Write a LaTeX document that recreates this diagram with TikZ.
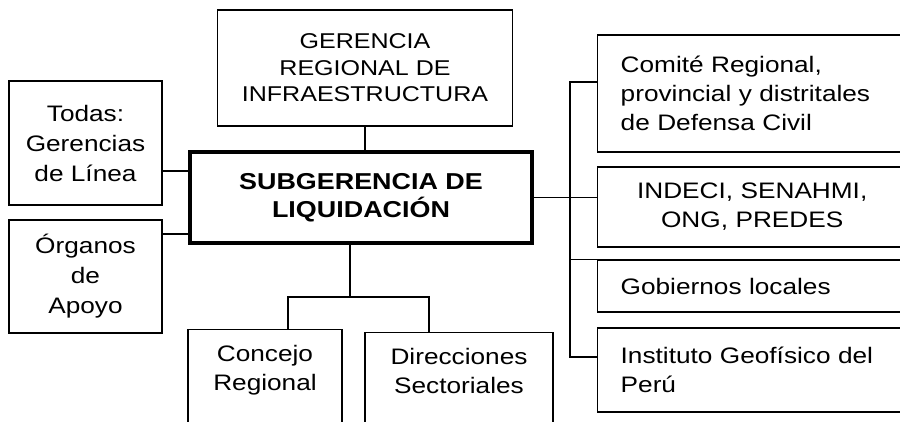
\documentclass[tikz,border=0pt]{standalone}
\usepackage{fontspec}
\setmainfont{Liberation Sans}[FakeStretch=1.17]
\usepackage{tikz}
\usetikzlibrary{positioning,calc}

\begin{document}
\begin{tikzpicture}[x=0.5pt,y=0.5pt,
  box/.style={draw,line width=0.7pt,inner sep=0pt,align=center,
              font=\fontsize{11.2}{15}\selectfont},
  head/.style={box,font=\fontsize{10.7}{13.25}\selectfont},
  main/.style={box,line width=1.8pt,font=\bfseries\fontsize{11.5}{14}\selectfont},
  low/.style={box,anchor=north,text height=30.5pt,text depth=50pt,
              font=\fontsize{11.2}{14.5}\selectfont},
  side/.style={box,anchor=west,inner xsep=11.5pt,text width=140pt,align=left,
               font=\fontsize{11.2}{14.5}\selectfont},
  line/.style={line width=0.7pt}]
\clip (0,0) rectangle (900,-422);
\node[head,minimum width=147.5pt,minimum height=58pt] (ger) at (365,-68)
  {GERENCIA\\ REGIONAL DE\\ INFRAESTRUCTURA};
\node[box,minimum width=76.5pt,minimum height=62pt] (todas) at (85.5,-143)
  {Todas:\\ Gerencias\\ de Línea};
\node[box,minimum width=76.5pt,minimum height=56.5pt] (org) at (85.5,-276.5)
  {Órganos\\ de\\ Apoyo};
\node[main,minimum width=171pt,minimum height=45.5pt] (sub) at (361,-197.5)
  {SUBGERENCIA DE\\ LIQUIDACIÓN};
\node[low,minimum width=77pt] (conc) at (265,-329) {Concejo\\ Regional};
\node[low,minimum width=94pt] (dir) at (459,-332) {Direcciones\\ Sectoriales};
\node[side,minimum height=58.5pt] (comite) at (597,-93.5)
  {Comité Regional,\\ provincial y distritales\\ de Defensa Civil};
\node[side,minimum height=40pt,text width=131.5pt,align=center] (indeci) at (597,-207)
  {INDECI, SENAHMI,\\ ONG, PREDES};
\node[side,minimum height=26pt] (gob) at (597,-286) {Gobiernos locales};
\node[side,minimum height=42pt] (inst) at (597,-370)
  {Instituto Geofísico del\\ Perú};
\coordinate (yTodas) at (0,-171);
\coordinate (yOrg) at (0,-234);
\coordinate (fork) at (350,-297);
\coordinate (forkL) at (288,-297);
\coordinate (forkR) at (429,-297);
\coordinate (trTop) at (570,-82);
\coordinate (trBot) at (570,-357);
\draw[line] (ger.south) -- (ger.south |- sub.north);
\draw[line] (todas.east |- yTodas) -- (sub.west |- yTodas);
\draw[line] (org.east |- yOrg) -- (sub.west |- yOrg);
\draw[line] (sub.south -| fork) -- (fork);
\draw[line] (conc.north -| forkL) -- (forkL) -- (forkR) -- (dir.north -| forkR);
\draw[line] (comite.west |- trTop) -- (trTop) -- (trBot) -- (inst.west |- trBot);
\draw[line] (sub.east) -- (sub.east -| indeci.west);
\draw[line] (gob.north west -| trTop) -- (gob.north west);
\end{tikzpicture}
\end{document}
